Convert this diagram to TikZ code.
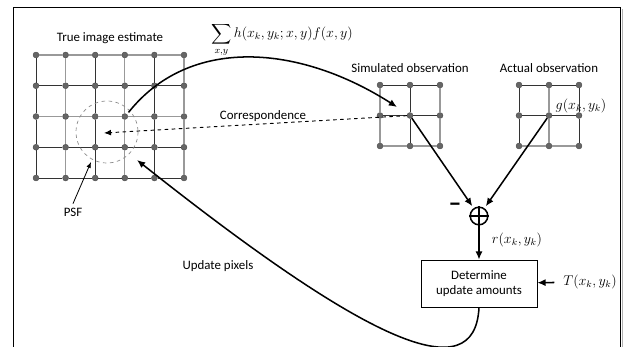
\documentclass[tikz,border=0pt]{standalone}
\usepackage{fontspec}
\setmainfont{Carlito}
\usepackage{amsmath}
\usetikzlibrary{arrows.meta}
\usetikzlibrary{calc}

\tikzset{
  pix/.style={circle, draw=black!70, fill=black!60, inner sep=0pt, minimum size=5pt},
  dk/.style={black!80, line width=0.8pt},
  lt/.style={black!40, line width=1.1pt},
  flow/.style={line width=1.3pt, -{Latex[length=7pt,width=6pt]}},
  mth/.style={font=\fontsize{12}{14}\selectfont},
}

\begin{document}
\begin{tikzpicture}[x=0.03cm, y=-0.03cm, font=\fontsize{11}{13}\selectfont]
\useasboundingbox (0,0) rectangle (624,347);
\draw[line width=0.8pt] (13,347) -- (13,7) -- (620,7) -- (620,347);
\draw[black!30, line width=1.5pt] (622.5,9) -- (622.5,347);

% true image estimate
\foreach \r in {0,...,4}
  \foreach \c in {0,...,5}
    \node[pix] (t\r\c) at ({36+29.6*\c}, {55+30.75*\r}) {};
\foreach \c in {0,2,4}
  \foreach \r/\rn in {0/1,1/2,2/3,3/4} \draw[dk] (t\r\c) -- (t\rn\c);
\foreach \c in {1,3,5}
  \foreach \r/\rn in {0/1,1/2,2/3,3/4} \draw[lt] (t\r\c) -- (t\rn\c);
\foreach \r in {1,3,4}
  \foreach \c/\cn in {0/1,1/2,2/3,3/4,4/5} \draw[dk] (t\r\c) -- (t\r\cn);
\foreach \r in {0,2}
  \foreach \c/\cn in {0/1,1/2,2/3,3/4,4/5} \draw[lt] (t\r\c) -- (t\r\cn);
\node (ttl) at (110,38) {True image estimate};

% simulated and actual observation
\foreach \r in {0,1,2}
  \foreach \c in {0,1,2} {
    \node[pix] (s\r\c) at ({380+30*\c}, {85+30.5*\r}) {};
    \node[pix] (a\r\c) at ({519+30*\c}, {85+30.5*\r}) {};
  }
\foreach \r/\rn in {0/1,1/2} {
  \draw[lt] (s\r0) -- (s\rn0);
  \draw[dk] (s\r1) -- (s\rn1);
  \draw[lt] (s\r2) -- (s\rn2);
  \draw[dk] (a\r0) -- (a\rn0);
  \draw[lt] (a\r1) -- (a\rn1);
  \draw[dk] (a\r2) -- (a\rn2);
}
\foreach \c/\cn in {0/1,1/2} {
  \draw[dk] (s0\c) -- (s0\cn);
  \draw[dk] (s1\c) -- (s1\cn);
  \draw[lt] (s2\c) -- (s2\cn);
  \draw[dk] (a0\c) -- (a0\cn);
  \draw[dk] (a1\c) -- (a1\cn);
  \draw[lt] (a2\c) -- (a2\cn);
}
\node (sttl) at (410,68) {Simulated observation};
\node (attl) at (549,68) {Actual observation};
\node[mth] (g) at (581,106) {$g(x_k,y_k)$};

% psf
\coordinate (psf) at (107,132);
\draw[dashed, black!45, line width=0.6pt] (psf) circle [radius=31];
\node (psflbl) at (73,212) {PSF};
\coordinate (psfedge) at (91,162);
\draw[line width=0.7pt, -{Latex[length=5pt,width=4pt]}] (psflbl.north) -- (psfedge);

% blur and correspondence
\node[mth] (blur) at (282,40) {$\displaystyle\sum_{x,y} h(x_k,y_k;x,y)f(x,y)$};
\coordinate (simin) at (397,107);
\draw[flow, shorten <=2pt] (t23.north east) .. controls (190,35) and (300,45) .. (simin);
\draw[dashed, line width=0.8pt, -{Latex[length=6pt,width=5pt]}] (s11) -- ($(psf)+(-3,1)$);
\node (corr) at (263,116) {Correspondence};

% residual
\node[circle, draw, line width=1.3pt, minimum size=15pt, inner sep=0pt] (sum) at (479,216) {};
\draw[line width=1.3pt] (sum.north) -- (sum.south) (sum.west) -- (sum.east);
\node[font=\fontsize{22}{22}\bfseries\selectfont] (minus) at (455,207) {--};
\draw[flow, shorten >=2pt] (s11) -- (sum);
\draw[flow, shorten >=2pt] (a11) -- (sum);

\node[draw, line width=0.6pt, minimum width=3.48cm, minimum height=1.41cm, align=center] (upd) at (479,283.5) {Determine\\update amounts};
\draw[flow] (sum) -- (upd);
\node[mth] (r) at (517,240) {$r(x_k,y_k)$};
\node[mth] (T) at (590,282) {$T(x_k,y_k)$};
\draw[flow, shorten <=4pt] (T) -- (upd);

% update loop
\coordinate (updin) at (137,160);
\draw[flow] (upd.south) .. controls (475,390) and (370,345) .. (updin);
\node (updlbl) at (218,266) {Update pixels};
\end{tikzpicture}
\end{document}
